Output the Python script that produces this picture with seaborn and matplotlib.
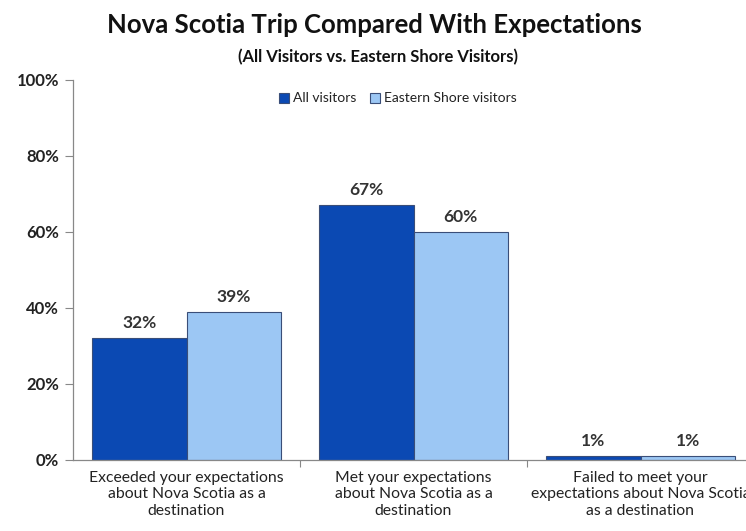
import pandas as pd
import seaborn as sns
import matplotlib.pyplot as plt
from matplotlib.ticker import PercentFormatter, FixedLocator

# Chart data
categories = ['Exceeded your expectations\nabout Nova Scotia as a\ndestination',
              'Met your expectations\nabout Nova Scotia as a\ndestination',
              'Failed to meet your\nexpectations about Nova Scotia\nas a destination']
series_names = ['All visitors', 'Eastern Shore visitors']
all_visitors = [32, 67, 1]
eastern_shore = [39, 60, 1]

df = pd.DataFrame({
    'category': categories * 2,
    'group': [series_names[0]] * 3 + [series_names[1]] * 3,
    'value': all_visitors + eastern_shore,
})

sns.set_style('white')
plt.rcParams['font.family'] = ['Lato', 'DejaVu Sans']

fig = plt.figure(figsize=(7.46, 5.31), dpi=100)
ax = fig.add_axes([73 / 746, 71 / 531, 681 / 746, 380 / 531])

palette = {series_names[0]: '#0B49B3', series_names[1]: '#9CC7F4'}
sns.barplot(data=df, x='category', y='value', hue='group', palette=palette,
            width=0.83, saturation=1, edgecolor='#3A4E78', linewidth=0.8, ax=ax)

for cont in ax.containers:
    ax.bar_label(cont, labels=[f'{v:.0f}%' for v in cont.datavalues], padding=5,
                 fontsize=12.5, fontweight='bold', color='#333333')

ax.set_ylim(0, 100)
ax.set_xlim(-0.5, 2.5)
ax.yaxis.set_major_formatter(PercentFormatter(decimals=0))
ax.set_yticks(range(0, 101, 20))
ax.tick_params(axis='y', labelsize=12, length=6, width=0.8, color='#888888',
               left=True, pad=4, labelcolor='#222222')
for lab in ax.get_yticklabels():
    lab.set_fontweight('bold')

ax.xaxis.set_minor_locator(FixedLocator([0.5, 1.5]))
ax.tick_params(axis='x', which='major', length=0, labelsize=11.3, pad=8, labelcolor='#222222')
ax.tick_params(axis='x', which='minor', length=5, width=0.8, color='#888888', bottom=True)
ax.set_xlabel('')
ax.set_ylabel('')

for s in ['top', 'right']:
    ax.spines[s].set_visible(False)
for s in ['left', 'bottom']:
    ax.spines[s].set_color('#888888')
    ax.spines[s].set_linewidth(0.9)

leg = ax.legend(loc='upper center', bbox_to_anchor=(0.477, 1.0), ncol=2, frameon=False,
                fontsize=10, handlelength=0.7, handleheight=0.7, handletextpad=0.3,
                columnspacing=1.0)
for t in leg.get_texts():
    t.set_color('#222222')

fig.text(0.502, 0.952, 'Nova Scotia Trip Compared With Expectations', ha='center', va='center',
         fontsize=18.5, fontweight='bold', color='#111111')
fig.text(0.507, 0.893, '(All Visitors vs. Eastern Shore Visitors)', ha='center', va='center',
         fontsize=12, fontweight='bold', color='#111111')

fig.savefig('out.png', dpi=100)
